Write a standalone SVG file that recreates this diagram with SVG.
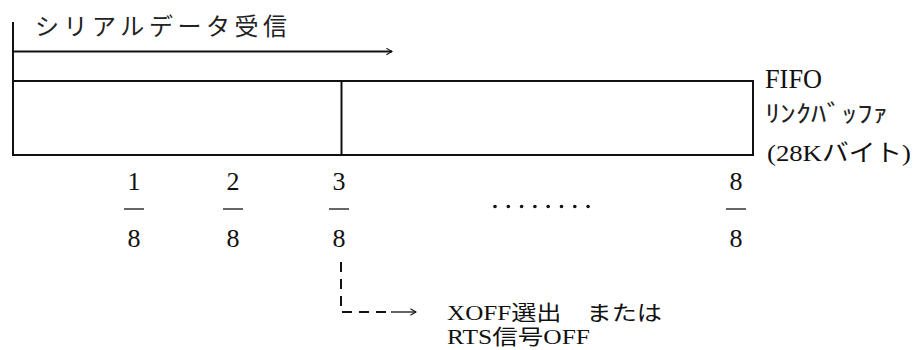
<svg xmlns="http://www.w3.org/2000/svg" width="915" height="350" viewBox="0 0 915 350">
<style>
  .t { font-family: "Liberation Serif", "Noto Sans CJK JP", serif; fill: #111; }
  .jp { font-family: "Liberation Serif", "Noto Sans CJK JP", serif; fill: #222; }
  .num { font-family: "Liberation Serif", serif; font-size: 26px; fill: #111; text-anchor: middle; }
  .line { stroke: #111; stroke-width: 2; fill: none; }
  .bar { stroke: #333; stroke-width: 1.5; }
  .dash { stroke: #111; stroke-width: 2; fill: none; stroke-dasharray: 10 7; }
</style>
<defs>
  <marker id="open" viewBox="0 0 10 10" refX="9" refY="5" markerWidth="8" markerHeight="8" markerUnits="userSpaceOnUse" orient="auto">
    <path d="M2,1 L9,5 L2,9" fill="none" stroke="#111" stroke-width="1.3"/>
  </marker>
</defs>
<rect width="915" height="350" fill="#fff"/>

<g id="buffer">
  <line class="line" x1="13" y1="22" x2="13" y2="155"/>
  <rect class="line" x="13" y="81" width="740" height="74"/>
  <line class="line" x1="341.5" y1="81" x2="341.5" y2="155"/>
</g>

<g id="title">
  <text class="jp" x="35" y="35" font-size="24" textLength="252" lengthAdjust="spacing">シリアルデータ受信</text>
</g>

<g id="fifo-label">
  <text class="t" x="765" y="88" font-size="27" textLength="57" lengthAdjust="spacingAndGlyphs">FIFO</text>
  <text class="jp" x="765" y="122" font-size="24" textLength="123" lengthAdjust="spacingAndGlyphs">ﾘﾝｸﾊﾞｯﾌｧ</text>
  <text class="t" x="767" y="161" font-size="24" textLength="144" lengthAdjust="spacingAndGlyphs">(28Kバイト)</text>
</g>

<g id="fractions">
  <text class="num" x="134" y="190">1</text>
  <line class="bar" x1="124" y1="209" x2="144" y2="209"/>
  <text class="num" x="134" y="247">8</text>
  <text class="num" x="233" y="190">2</text>
  <line class="bar" x1="223" y1="209" x2="243" y2="209"/>
  <text class="num" x="233" y="247">8</text>
  <text class="num" x="339" y="190">3</text>
  <line class="bar" x1="329" y1="209" x2="349" y2="209"/>
  <text class="num" x="339" y="247">8</text>
  <text class="num" x="736" y="190">8</text>
  <line class="bar" x1="726" y1="209" x2="746" y2="209"/>
  <text class="num" x="736" y="247">8</text>
</g>

<g id="dots" fill="#111">
  <circle cx="495" cy="206.5" r="1.8"/>
  <circle cx="508.3" cy="206.5" r="1.8"/>
  <circle cx="521.6" cy="206.5" r="1.8"/>
  <circle cx="534.9" cy="206.5" r="1.8"/>
  <circle cx="548.2" cy="206.5" r="1.8"/>
  <circle cx="561.5" cy="206.5" r="1.8"/>
  <circle cx="574.8" cy="206.5" r="1.8"/>
  <circle cx="588.1" cy="206.5" r="1.8"/>
</g>

<g id="connectors">
  <line x1="13" y1="51.5" x2="392" y2="51.5" stroke="#111" stroke-width="2" marker-end="url(#open)"/>
  <path class="dash" d="M341,262 V312 H392"/>
  <line x1="391" y1="312" x2="416" y2="312" stroke="#111" stroke-width="1.3" marker-end="url(#open)"/>
</g>

<g id="xoff-label">
  <text class="t" x="447" y="320" font-size="21" textLength="215" lengthAdjust="spacingAndGlyphs">XOFF選出　または</text>
  <text class="t" x="447" y="344" font-size="21" textLength="143" lengthAdjust="spacingAndGlyphs">RTS信号OFF</text>
</g>
</svg>
